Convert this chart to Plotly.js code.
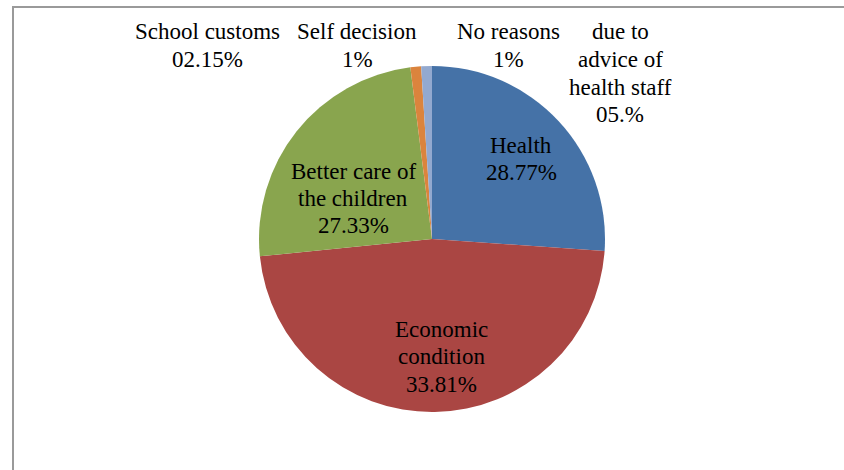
<!DOCTYPE html>
<html>
<head>
<meta charset="utf-8">
<script src="https://cdn.plot.ly/plotly-3.0.1.min.js"></script>
<style>html,body{margin:0;padding:0;background:#fff;}#chart{width:844px;height:470px;}</style>
</head>
<body>
<div id="chart"></div>
<script>
// Slice sizes as drawn
const sliceNames = ["Health", "Economic condition", "Better care of the children", "Self decision", "No reasons"];
const sliceValues = [26.1, 47.3, 24.6, 1.0, 1.0];
const sliceColors = ["#4572A7", "#AA4643", "#89A54E", "#DB843D", "#93A9CF"];

// Data labels as printed on the chart
const labelNames = ["Health", "Economic<br>condition", "Better care of<br>the children", "School customs", "Self decision", "No reasons", "due to<br>advice of<br>health staff"];
const labelPcts = ["28.77%", "33.81%", "27.33%", "02.15%", "1%", "1%", "05.%"];
// label position: centre x and first line centre y, in pixels
const labelPx = [[521, 145], [441, 329], [353, 171], [207, 32], [357, 32], [508, 32], [620, 32]];

const W = 844, H = 470;
const cx = 432, cy = 239, r = 173;
const FONT = {family: "Liberation Serif", size: 23, color: "#000"};
const LINE = 27.5;

const trace = {
  type: "pie",
  labels: sliceNames,
  values: sliceValues,
  sort: false,
  direction: "clockwise",
  rotation: 0,
  textinfo: "none",
  hoverinfo: "label+percent",
  marker: {colors: sliceColors, line: {color: "#ffffff", width: 0}},
  domain: {x: [(cx - r) / W, (cx + r) / W], y: [1 - (cy + r) / H, 1 - (cy - r) / H]},
  showlegend: false
};

const annotations = [];
labelNames.forEach((name, i) => {
  const lines = name.split("<br>").concat([labelPcts[i]]);
  lines.forEach((ln, k) => {
    annotations.push({
      text: ln,
      x: labelPx[i][0] / W,
      y: 1 - (labelPx[i][1] + k * LINE) / H,
      xref: "paper", yref: "paper",
      xanchor: "center", yanchor: "middle",
      showarrow: false,
      font: FONT
    });
  });
});

const layout = {
  width: W, height: H,
  margin: {l: 0, r: 0, t: 0, b: 0},
  paper_bgcolor: "#ffffff",
  showlegend: false,
  annotations: annotations,
  shapes: [{
    type: "rect", xref: "paper", yref: "paper",
    x0: 13 / W, x1: 1.01, y0: -0.01, y1: 1 - 7 / H,
    line: {color: "#9a9a9a", width: 2}, fillcolor: "rgba(0,0,0,0)"
  }]
};

Plotly.newPlot("chart", [trace], layout, {displayModeBar: false, staticPlot: true});
</script>
</body>
</html>
